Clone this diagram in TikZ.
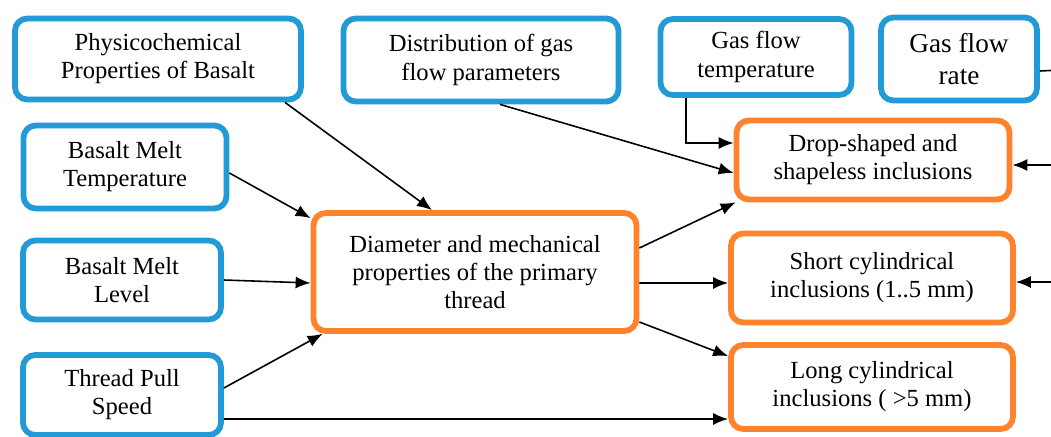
\documentclass[tikz,border=0pt]{standalone}
\usepackage{fontspec}
\setmainfont{Liberation Serif}
\usetikzlibrary{arrows.meta,positioning}

\definecolor{inblue}{RGB}{33,154,214}
\definecolor{outorange}{RGB}{255,130,45}
\newcommand\boxfont{\fontsize{14}{16}\selectfont}
\newcommand\bigboxfont{\fontsize{15.5}{18.5}\selectfont}

\begin{document}
\begin{tikzpicture}[x=0.02cm, y=-0.02cm,
      inbox/.style={draw=inblue, line width=3.3pt, rounded corners=7pt, align=center,
                    inner sep=0pt, font=\boxfont},
      outbox/.style={draw=outorange, line width=3.3pt, rounded corners=7pt, align=center,
                     inner sep=0pt, font=\boxfont},
      arr/.style={-{Latex[length=3mm, width=2.4mm]}, line width=0.9pt}]
    \clip (0,0) rectangle (1051,436);
    % factors
    \node[inbox, minimum width=5.72cm, minimum height=1.62cm] (phys) at (158,59)
      {Physicochemical\\Properties of Basalt};
    \node[inbox, minimum width=5.50cm, minimum height=1.66cm] (dist) at (481,60)
      {Distribution of gas\\flow parameters};
    \node[inbox, minimum width=3.82cm, minimum height=1.52cm] (gtemp) at (756,57)
      {Gas flow\\temperature};
    \node[inbox, minimum width=3.12cm, minimum height=1.66cm, font=\bigboxfont] (grate) at (959,59)
      {Gas flow\\rate};
    \node[inbox, minimum width=4.06cm, minimum height=1.66cm] (mtemp) at (125,167)
      {Basalt Melt\\Temperature};
    \node[inbox, minimum width=3.96cm, minimum height=1.58cm] (mlevel) at (122,280)
      {Basalt Melt\\Level};
    \node[inbox, minimum width=3.96cm, minimum height=1.60cm] (pull) at (122,395)
      {Thread Pull\\Speed};
    % results
    \node[outbox, minimum width=6.46cm, minimum height=2.36cm] (diam) at (475,272)
      {Diameter and mechanical\\properties of the primary\\thread};
    \node[outbox, minimum width=5.46cm, minimum height=1.58cm] (drop) at (873,160)
      {Drop-shaped and\\shapeless inclusions};
    \node[outbox, minimum width=5.64cm, minimum height=1.78cm] (short) at (872,278)
      {Short cylindrical\\inclusions (1..5 mm)};
    \node[outbox, minimum width=5.64cm, minimum height=1.68cm] (long) at (872,387)
      {Long cylindrical\\inclusions ( >5 mm)};
    \coordinate (rateout) at (1060,70);
    \coordinate (dropin) at (1060,165);
    \coordinate (shortin) at (1060,282);

    \draw[arr] ([xshift=2.54cm]phys.south) -- ([xshift=-0.86cm]diam.north);
    \draw[arr] ([yshift=-0.12cm]mtemp.east) -- ([yshift=-0.16cm]diam.north west);
    \draw[arr] (mlevel.east) -- ([yshift=-0.22cm]diam.west);
    \draw[arr] ([yshift=0.14cm]pull.east) -- ([xshift=0.24cm]diam.south west);
    \draw[arr] ([yshift=-0.48cm]pull.east) -- ([yshift=-0.64cm]long.west);
    \draw[arr] ([xshift=0.38cm]dist.south) -- ([yshift=-0.26cm]drop.west);
    \draw[arr] ([xshift=-1.4cm]gtemp.south) |- ([yshift=0.34cm]drop.west);
    \draw[arr] ([yshift=0.48cm]diam.east) -- ([xshift=0.04cm]drop.south west);
    \draw[arr] ([yshift=-0.22cm]diam.east) -- ([yshift=-0.1cm]short.west);
    \draw[arr] ([yshift=-1.0cm]diam.east) -- ([yshift=-0.28cm]long.north west);
    \draw[line width=0.9pt] ([yshift=-0.24cm]grate.east) -- (rateout);
    \draw[arr] (dropin) -- ([yshift=-0.1cm]drop.east);
    \draw[arr] (shortin) -- ([yshift=-0.08cm]short.east);
  \end{tikzpicture}
\end{document}
